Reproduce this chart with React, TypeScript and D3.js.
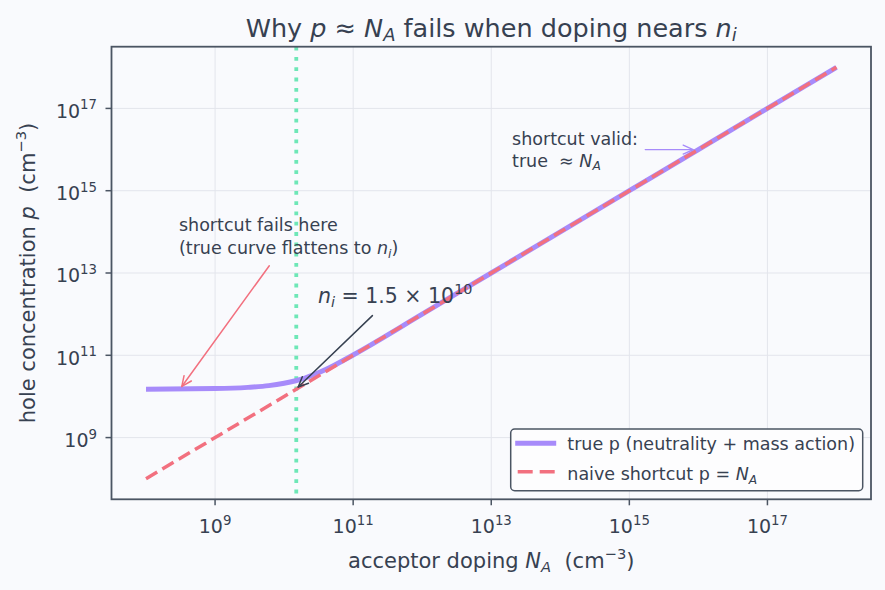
import React from 'react';
import * as d3 from 'd3';

// acceptor doping sweep and the resulting hole concentration (cm^-3)
const trueNA = [1e8, 1e9, 3e9, 6e9, 1e10, 2e10, 4e10, 1e11, 1e12, 1e13, 1e14, 1e15, 1e16, 1e17, 1e18];
const trueP = [1.5e10, 1.55e10, 1.66e10, 1.83e10, 2.1e10, 2.8e10, 4.5e10, 1.02e11, 1e12, 1e13, 1e14, 1e15, 1e16, 1e17, 1e18];

// naive shortcut p = N_A
const naiveNA = [1e8, 1e10, 1e12, 1e14, 1e16, 1e18];
const naiveP = [1e8, 1e10, 1e12, 1e14, 1e16, 1e18];

const ni = 1.5e10;

const xTickExps = [9, 11, 13, 15, 17];
const yTickExps = [9, 11, 13, 15, 17];

const W = 885;
const H = 590;
const plot = { left: 111.5, right: 871, top: 46.7, bottom: 499.3 };

const ink = '#374151';
const spine = '#4b5563';
const grid = '#e3e5ec';
const bg = '#f9fafd';
const violet = '#a78bfa';
const rose = '#f2707f';
const mint = '#6ee7b7';

const font = '"DejaVu Sans", "Liberation Sans", sans-serif';

type Pt = [number, number];

const zip = (a: number[], b: number[]): Pt[] => a.map((v, i) => [v, b[i]]);

function Arrow({ from, to, color, width }: { from: Pt; to: Pt; color: string; width: number }) {
  const [x1, y1] = from;
  const [x2, y2] = to;
  const ang = Math.atan2(y2 - y1, x2 - x1);
  const len = 10;
  const half = 4.5;
  const bx = x2 - len * Math.cos(ang);
  const by = y2 - len * Math.sin(ang);
  const nx = -Math.sin(ang) * half;
  const ny = Math.cos(ang) * half;
  return (
    <g stroke={color} strokeWidth={width} fill="none" strokeLinecap="round" strokeLinejoin="round">
      <line x1={x1} y1={y1} x2={x2} y2={y2} />
      <path d={`M${bx + nx},${by + ny}L${x2},${y2}L${bx - nx},${by - ny}`} />
    </g>
  );
}

export default function App() {
  const x = d3.scaleLog().domain([10 ** 7.5, 10 ** 18.5]).range([plot.left, plot.right]);
  const y = d3.scaleLog().domain([10 ** 7.5, 10 ** 18.5]).range([plot.bottom, plot.top]);

  const line = d3
    .line<Pt>()
    .x((d) => x(d[0]))
    .y((d) => y(d[1]))
    .curve(d3.curveMonotoneX);

  const truePath = line(zip(trueNA, trueP)) || '';
  const naivePath = line(zip(naiveNA, naiveP)) || '';

  const pw = plot.right - plot.left;
  const ph = plot.bottom - plot.top;
  const xc = (plot.left + plot.right) / 2;
  const yc = (plot.top + plot.bottom) / 2;

  const pre = { whiteSpace: 'pre' as const };

  // annotation anchors in data space
  const failText: Pt = [3.0e8, 1.05e14];
  const failArrow = { from: [6.1e9, 1.5e13] as Pt, to: [3.3e8, 1.75e10] as Pt };
  const niText: Pt = [3.1e10, 1.9e12];
  const niArrow = { from: [1.9e11, 9.2e11] as Pt, to: [1.6e10, 1.7e10] as Pt };
  const validText: Pt = [2.0e13, 1.3e16];
  const validArrow = { from: [1.7e15, 1e16] as Pt, to: [8.4e15, 1e16] as Pt };
  const px = (p: Pt): Pt => [x(p[0]), y(p[1])];

  const legX = 510.7;
  const legY = 429;

  return (
    <svg
      width={W}
      height={H}
      style={{ position: 'absolute', left: 0, top: 0, fontFamily: font }}
    >
      <rect width={W} height={H} fill={bg} />

      {/* title */}
      <text x={xc} y={37} textAnchor="middle" fontSize={25.5} fill={ink} style={pre}>
        {'Why '}
        <tspan fontStyle="italic">p</tspan>
        {' ≈ '}
        <tspan fontStyle="italic">N</tspan>
        <tspan fontStyle="italic" fontSize={18} dy={4}>A</tspan>
        <tspan dy={-4}>{' fails when doping nears '}</tspan>
        <tspan fontStyle="italic">n</tspan>
        <tspan fontStyle="italic" fontSize={18} dy={4}>i</tspan>
      </text>

      {/* grid */}
      <g stroke={grid} strokeWidth={1}>
        {xTickExps.map((e) => (
          <line key={`gx${e}`} x1={x(10 ** e)} x2={x(10 ** e)} y1={plot.top} y2={plot.bottom} />
        ))}
        {yTickExps.map((e) => (
          <line key={`gy${e}`} y1={y(10 ** e)} y2={y(10 ** e)} x1={plot.left} x2={plot.right} />
        ))}
      </g>

      {/* intrinsic concentration marker */}
      <line
        x1={x(ni)}
        x2={x(ni)}
        y1={plot.top}
        y2={plot.bottom}
        stroke={mint}
        strokeWidth={3.8}
        strokeDasharray="3.8 6.5"
      />

      <path d={truePath} fill="none" stroke={violet} strokeWidth={5} strokeLinecap="butt" />
      <path d={naivePath} fill="none" stroke={rose} strokeWidth={3.5} strokeDasharray="13 6" />

      {/* axes frame */}
      <rect x={plot.left} y={plot.top} width={pw} height={ph} fill="none" stroke={spine} strokeWidth={1.8} />

      {/* x ticks */}
      {xTickExps.map((e) => (
        <g key={`tx${e}`}>
          <line x1={x(10 ** e)} x2={x(10 ** e)} y1={plot.bottom} y2={plot.bottom + 6} stroke={spine} strokeWidth={1.5} />
          <text x={x(10 ** e)} y={533} textAnchor="middle" fontSize={19} fill={ink}>
            10
            <tspan fontSize={13.3} dy={-8.3}>{e}</tspan>
          </text>
        </g>
      ))}

      {/* y ticks */}
      {yTickExps.map((e) => (
        <g key={`ty${e}`}>
          <line x1={plot.left - 6} x2={plot.left} y1={y(10 ** e)} y2={y(10 ** e)} stroke={spine} strokeWidth={1.5} />
          <text x={97} y={y(10 ** e) + 9.3} textAnchor="end" fontSize={19} fill={ink}>
            10
            <tspan fontSize={13.3} dy={-8.3}>{e}</tspan>
          </text>
        </g>
      ))}

      {/* axis labels */}
      <text x={xc} y={568} textAnchor="middle" fontSize={21} fill={ink} style={pre}>
        {'acceptor doping '}
        <tspan fontStyle="italic">N</tspan>
        <tspan fontStyle="italic" fontSize={14.7} dy={3.5}>A</tspan>
        <tspan dy={-3.5}>{'  (cm'}</tspan>
        <tspan fontSize={14.7} dy={-9}>−3</tspan>
        <tspan dy={9}>)</tspan>
      </text>
      <text
        transform={`translate(35,${yc}) rotate(-90)`}
        textAnchor="middle"
        fontSize={21}
        fill={ink}
        style={pre}
      >
        {'hole concentration '}
        <tspan fontStyle="italic">p</tspan>
        {'  (cm'}
        <tspan fontSize={14.7} dy={-9}>−3</tspan>
        <tspan dy={9}>)</tspan>
      </text>

      {/* annotations */}
      <text x={px(failText)[0]} y={px(failText)[1]} fontSize={17.5} fill={ink} style={pre}>
        shortcut fails here
      </text>
      <text x={px(failText)[0]} y={px(failText)[1] + 23.5} fontSize={17.5} fill={ink} style={pre}>
        {'(true curve flattens to '}
        <tspan fontStyle="italic">n</tspan>
        <tspan fontStyle="italic" fontSize={12.3} dy={3.5}>i</tspan>
        <tspan dy={-3.5}>)</tspan>
      </text>
      <Arrow from={px(failArrow.from)} to={px(failArrow.to)} color={rose} width={1.5} />

      <text x={px(niText)[0]} y={px(niText)[1]} fontSize={20.5} fill={ink} style={pre}>
        <tspan fontStyle="italic">n</tspan>
        <tspan fontStyle="italic" fontSize={14.4} dy={4}>i</tspan>
        <tspan dy={-4}>{' = 1.5 × 10'}</tspan>
        <tspan fontSize={14.4} dy={-9}>10</tspan>
      </text>
      <Arrow from={px(niArrow.from)} to={px(niArrow.to)} color={ink} width={1.5} />

      <text x={px(validText)[0]} y={px(validText)[1]} fontSize={17.5} fill={ink} style={pre}>
        shortcut valid:
      </text>
      <text x={px(validText)[0]} y={px(validText)[1] + 21.7} fontSize={17.5} fill={ink} style={pre}>
        {'true  ≈ '}
        <tspan fontStyle="italic">N</tspan>
        <tspan fontStyle="italic" fontSize={12.3} dy={3.5}>A</tspan>
      </text>
      <Arrow from={px(validArrow.from)} to={px(validArrow.to)} color={violet} width={1.3} />

      {/* legend */}
      <g>
        <rect x={legX} y={legY} width={352} height={61.7} rx={4} fill="#fdfdfe" stroke={spine} strokeWidth={1.5} />
        <line x1={legX + 4.5} x2={legX + 45.5} y1={legY + 14.3} y2={legY + 14.3} stroke={violet} strokeWidth={5} />
        <text x={legX + 56.6} y={legY + 21} fontSize={17.5} fill={ink} style={pre}>
          true p (neutrality + mass action)
        </text>
        <line
          x1={legX + 7}
          x2={legX + 45.5}
          y1={legY + 42.7}
          y2={legY + 42.7}
          stroke={rose}
          strokeWidth={3.5}
          strokeDasharray="15 7"
        />
        <text x={legX + 56.6} y={legY + 51} fontSize={17.5} fill={ink} style={pre}>
          {'naive shortcut p = '}
          <tspan fontStyle="italic">N</tspan>
          <tspan fontStyle="italic" fontSize={12.3} dy={3.5}>A</tspan>
        </text>
      </g>
    </svg>
  );
}
